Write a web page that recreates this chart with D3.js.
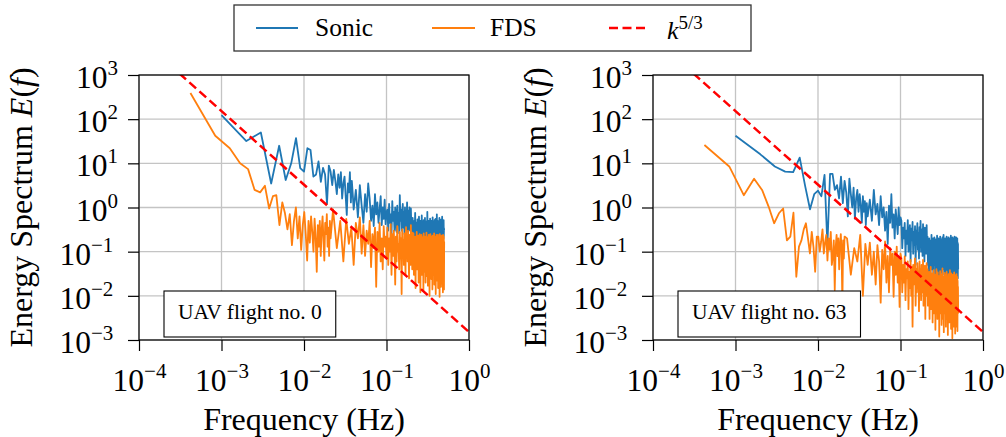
<!DOCTYPE html>
<html><head><meta charset="utf-8">
<script src="https://cdn.jsdelivr.net/npm/d3@7"></script>
<style>
body{margin:0;background:#fff}
svg{display:block}
text{font-family:"Liberation Serif","Times New Roman",serif;fill:#000}
</style>
</head><body>
<svg id="chart" width="1006" height="437"></svg>
<script>
// ---------------- DATA ----------------
// frequency grid (Hz): low-frequency bins use the FFT bin width, the dense high-frequency part is sampled every highStep
const sonicStep = 0.001;
const fdsStep = 0.00042;
const highStep = 0.0025;
const sonicHighStart = 0.0425;
const fdsHighStart = 0.0225;

const xTicks = [1e-4, 1e-3, 1e-2, 1e-1, 1e0];
const yTicks = [1e-3, 1e-2, 1e-1, 1e0, 1e1, 1e2, 1e3];
const seriesNames = ["Sonic", "FDS"];
const flightLabels = ["UAV flight no. 0", "UAV flight no. 63"];

// reference slope k^(-5/3) (two end points of the straight log-log line)
const refFreq = [1e-4, 1];
const refEnergy = [7080, 0.00152];

// ---- UAV flight 0 ----
const sonic0Low = [123, 32, 50, 3.5, 25, 4.2, 10, 37, 7.8, 6.5,
  22, 20, 5.0, 5.6, 11, 3.8, 7.9, 5.6, 1.2, 8.9,
  6.5, 3.2, 7.1, 4.0, 2.0, 5.6, 2.8, 6.3, 1.6, 3.5,
  5.0, 1.8, 0.68, 3.5, 2.2, 6.3, 1.3, 4.0, 2.0, 0.9];
const sonic0High = [2.5, 0.6, 3.2, 1.1, 0.45, 2.0, 0.8, 3.5,
  1.6, 0.5, 1.1, 0.38, 2.0, 0.7, 1.3, 0.45, 0.9, 1.8, 0.4, 1.0, 0.55, 1.5, 0.42, 0.8,
  0.9, 0.3, 1.2, 0.45, 0.7, 0.25, 1.4, 0.5, 0.8, 0.3, 1.0, 0.6, 0.28, 1.1, 0.4, 0.75, 0.26, 1.9, 0.5, 0.9,
  0.3, 0.65, 1.2, 0.35, 0.8, 0.25, 1.0, 0.45, 0.7, 0.3, 1.3, 0.5, 0.28, 0.85, 0.4, 1.0, 0.3, 0.6, 0.95, 0.35,
  0.42, 0.2, 0.58, 0.26, 0.38, 0.18, 0.5, 0.3, 0.75, 0.22,
  0.46, 0.26, 0.34, 0.18, 0.54, 0.24, 0.42, 0.19, 0.62, 0.3,
  0.38, 0.18, 0.5, 0.26, 0.42, 0.21, 0.66, 0.27, 0.36, 0.17,
  0.46, 0.23, 0.52, 0.19, 0.4, 0.26, 0.58, 0.21, 0.34, 0.16,
  0.48, 0.26, 0.38, 0.19, 0.8, 0.24, 0.42, 0.17, 0.5, 0.28,
  0.36, 0.18, 0.46, 0.22, 0.56, 0.26, 0.38, 0.17, 0.44, 0.23,
  0.5, 0.2, 0.34, 0.26, 0.6, 0.21, 0.4, 0.17, 0.46, 0.27,
  0.37, 0.19, 0.52, 0.24, 0.42, 0.16, 0.55, 0.26, 0.36, 0.2,
  0.48, 0.22, 0.7, 0.26, 0.39, 0.18, 0.45, 0.24, 0.34, 0.17,
  0.5, 0.27, 0.42, 0.2, 0.58, 0.23, 0.37, 0.17, 0.47, 0.26,
  0.4, 0.19, 0.53, 0.22, 0.36, 0.16, 0.44, 0.25, 0.62, 0.2,
  0.39, 0.17, 0.48, 0.26, 0.42, 0.2, 0.52, 0.23, 0.34, 0.3];
const fds0Low = [390, 42, 22, 10, 7.4, 2.5, 2.2, 3.1, 0.95, 1.8,
  1.9, 0.4, 1.3, 0.74, 0.32, 0.71, 0.14, 0.5, 1.0, 0.2,
  0.63, 0.11, 0.4, 0.79, 0.25, 0.063, 0.5, 0.16, 0.63, 0.28,
  0.1, 0.56, 0.2, 0.035, 0.4, 0.13, 0.5, 0.08, 0.32, 0.63,
  0.18, 0.063, 0.45, 0.25, 0.71, 0.13, 0.35, 0.08, 0.5, 0.2];
const fds0High = [0.9, 0.12, 0.5, 0.06,
  0.55, 0.15, 0.35, 0.05, 0.45, 0.2, 0.6, 0.09,
  0.4, 0.08, 0.3, 0.15, 0.5, 0.045, 0.25, 0.12, 0.35, 0.016, 0.28, 0.1, 0.45, 0.06, 0.2, 0.04, 0.38, 0.13, 0.22, 0.07,
  0.35, 0.05, 0.2, 0.1, 0.42, 0.03, 0.25, 0.08, 0.3, 0.12,
  0.018, 0.22, 0.06, 0.38, 0.1, 0.15, 0.04, 0.28, 0.07, 0.2,
  0.011, 0.32, 0.09, 0.18, 0.05, 0.26, 0.13, 0.03, 0.36, 0.08,
  0.22, 0.06, 0.3, 0.1, 0.025, 0.24, 0.14, 0.05, 0.4, 0.08,
  0.19, 0.04, 0.27, 0.11,
  0.26, 0.03, 0.16, 0.07, 0.22, 0.015, 0.18, 0.05, 0.28, 0.04,
  0.12, 0.08, 0.23, 0.02, 0.19, 0.045, 0.25, 0.09, 0.012, 0.17,
  0.06, 0.24, 0.03, 0.14, 0.21, 0.045, 0.18, 0.013, 0.26, 0.07,
  0.13, 0.035, 0.22, 0.09, 0.02, 0.19, 0.05, 0.27, 0.028, 0.15,
  0.08, 0.21, 0.017, 0.18, 0.045, 0.24, 0.06, 0.12, 0.01, 0.2,
  0.05, 0.25, 0.035, 0.16, 0.1, 0.024, 0.22, 0.045, 0.19, 0.014,
  0.23, 0.07, 0.15, 0.03, 0.2, 0.05, 0.26, 0.018, 0.17, 0.08,
  0.11, 0.04, 0.22, 0.011, 0.18, 0.06, 0.24, 0.027, 0.15, 0.09,
  0.022, 0.19, 0.05, 0.24, 0.015, 0.16, 0.07, 0.21, 0.035, 0.13,
  0.18, 0.0095, 0.25, 0.05, 0.17, 0.027, 0.21, 0.1, 0.016, 0.2,
  0.06, 0.23, 0.035, 0.15, 0.019, 0.22, 0.08, 0.17, 0.012, 0.24,
  0.045, 0.19, 0.03, 0.22, 0.014, 0.17];

// ---- UAV flight 63 ----
const sonic63Low = [42, 16, 8.5, 6.5, 6.3, 13.5, 3.0, 0.91, 2.0, 2.4,
  1.8, 5.5, 0.14, 5.8, 5.8, 2.5, 3.2, 1.6, 5.0, 1.26,
  4.0, 2.2, 0.63, 4.5, 2.0, 1.0, 2.8, 0.56, 1.6, 2.5,
  0.8, 2.0, 1.1, 0.45, 1.8, 0.8, 1.4, 0.4, 1.26, 0.63];
const sonic63High = [1.5, 0.5, 2.5, 0.7, 1.2, 0.4, 1.8, 0.6,
  1.0, 0.3, 0.8, 0.15, 1.1, 0.45, 2.0, 0.35, 0.7, 0.2, 0.9, 0.5, 0.25, 1.0, 0.4, 0.6,
  0.5, 0.12, 0.35, 0.2, 0.45, 0.08, 0.3, 0.15, 0.52, 0.1,
  0.25, 0.4, 0.06, 0.33, 0.18, 0.47, 0.09, 0.28, 0.14, 0.38,
  0.05, 0.3, 0.2, 0.44, 0.11, 0.26, 0.07, 0.36, 0.16, 0.5,
  0.1, 0.24, 0.32, 0.08, 0.42, 0.13, 0.22, 0.06, 0.35, 0.17,
  0.28, 0.09, 0.4, 0.12,
  0.22, 0.05, 0.15, 0.03, 0.2, 0.08, 0.12, 0.025, 0.18, 0.06,
  0.24, 0.04, 0.14, 0.1, 0.2, 0.03, 0.17, 0.07, 0.21, 0.05,
  0.13, 0.022, 0.19, 0.09, 0.16, 0.04, 0.23, 0.06, 0.12, 0.03,
  0.2, 0.08, 0.15, 0.02, 0.18, 0.05, 0.22, 0.07, 0.11, 0.035,
  0.19, 0.06, 0.16, 0.025, 0.21, 0.09, 0.13, 0.04, 0.24, 0.05,
  0.17, 0.03, 0.14, 0.07, 0.2, 0.021, 0.18, 0.06, 0.12, 0.04,
  0.22, 0.08, 0.15, 0.03, 0.19, 0.05, 0.16, 0.026, 0.21, 0.07,
  0.13, 0.04, 0.18, 0.02, 0.2, 0.06, 0.14, 0.035, 0.23, 0.05,
  0.17, 0.03, 0.19, 0.08, 0.12, 0.022, 0.21, 0.05, 0.15, 0.04,
  0.18, 0.07, 0.2, 0.025, 0.16, 0.05, 0.22, 0.03, 0.13, 0.06,
  0.19, 0.04, 0.17, 0.02, 0.21, 0.06, 0.14, 0.03, 0.18, 0.05,
  0.2, 0.035, 0.16, 0.025, 0.15, 0.04];
const fds63Low = [26, 8.5, 1.9, 4.5, 2.5, 1.05, 0.44, 0.74, 0.95, 0.18,
  0.22, 0.76, 0.027, 0.13, 0.18, 0.32, 0.44, 0.2, 0.091, 0.28,
  0.126, 0.035, 0.22, 0.22, 0.1, 0.17, 0.32, 0.091, 0.16, 0.24,
  0.063, 0.2, 0.11, 0.28, 0.05, 0.078, 0.18, 0.0135, 0.126, 0.24,
  0.079, 0.2, 0.04, 0.14, 0.25, 0.1, 0.0063, 0.18, 0.07, 0.22];
const fds63High = [0.2, 0.03, 0.12, 0.06, 0.24, 0.01, 0.15, 0.05,
  0.16, 0.03, 0.1, 0.018, 0.14, 0.06, 0.007, 0.11, 0.04, 0.17, 0.02, 0.08,
  0.012, 0.12, 0.05, 0.09, 0.0095, 0.1, 0.03, 0.13, 0.02, 0.07, 0.0056, 0.09,
  0.07, 0.012, 0.05, 0.02, 0.078, 0.008, 0.04, 0.025, 0.06, 0.005,
  0.035, 0.015, 0.065, 0.01, 0.045, 0.002, 0.05, 0.018, 0.03, 0.07,
  0.006, 0.04, 0.012, 0.055, 0.022, 0.035, 0.0045, 0.06, 0.015, 0.04,
  0.008, 0.05, 0.028, 0.012, 0.065, 0.006, 0.038, 0.02, 0.048, 0.003,
  0.042, 0.014, 0.055, 0.01,
  0.04, 0.006, 0.025, 0.012, 0.035, 0.003, 0.02, 0.008, 0.045, 0.005,
  0.028, 0.01, 0.032, 0.0025, 0.022, 0.007, 0.038, 0.004, 0.018, 0.012,
  0.03, 0.0017, 0.026, 0.006, 0.04, 0.009, 0.02, 0.003, 0.034, 0.007,
  0.015, 0.005, 0.028, 0.0012, 0.024, 0.008, 0.036, 0.004, 0.019, 0.011,
  0.03, 0.0022, 0.022, 0.006, 0.042, 0.003, 0.017, 0.009, 0.027, 0.0015,
  0.025, 0.007, 0.033, 0.004, 0.02, 0.01, 0.029, 0.002, 0.016, 0.006,
  0.035, 0.003, 0.023, 0.008, 0.026, 0.0013, 0.021, 0.005, 0.031, 0.009,
  0.018, 0.0025, 0.028, 0.006, 0.038, 0.003, 0.02, 0.007, 0.024, 0.0018,
  0.032, 0.005, 0.017, 0.01, 0.027, 0.0011, 0.022, 0.006, 0.03, 0.004,
  0.019, 0.008, 0.026, 0.002, 0.034, 0.005, 0.021, 0.007, 0.025, 0.0014,
  0.029, 0.004, 0.018, 0.009, 0.023, 0.002, 0.031, 0.006, 0.02, 0.003,
  0.027, 0.0016, 0.022, 0.005, 0.016, 0.004];

// ---------------- DRAWING ----------------
const colors = {sonic: "#1f77b4", fds: "#ff7f0e", ref: "#ff0000"};
const svg = d3.select("#chart");

function buildSeries(low, lowStep, high, highStart, step) {
  const pts = low.map((v, i) => ({f: (i + 1) * lowStep, e: v}));
  high.forEach((v, i) => pts.push({f: highStart + i * step, e: v}));
  return pts;
}

const panels = [
  {x0: 139, x1: 469, sonic: buildSeries(sonic0Low, sonicStep, sonic0High, sonicHighStart, highStep),
   fds: buildSeries(fds0Low, fdsStep, fds0High, fdsHighStart, highStep), label: flightLabels[0]},
  {x0: 653, x1: 983, sonic: buildSeries(sonic63Low, sonicStep, sonic63High, sonicHighStart, highStep),
   fds: buildSeries(fds63Low, fdsStep, fds63High, fdsHighStart, highStep), label: flightLabels[1]}
];
const yTop = 75, yBot = 340;

function expLabel(sel, v) {
  const p = Math.round(Math.log10(v));
  sel.text(null);
  sel.append("tspan").text("10");
  sel.append("tspan").attr("dy", -13).attr("font-size", 21).text(p < 0 ? "\u2212" + (-p) : String(p));
}

panels.forEach((P, pi) => {
  const x = d3.scaleLog().domain([1e-4, 1]).range([P.x0, P.x1]);
  const y = d3.scaleLog().domain([1e-3, 1e3]).range([yBot, yTop]);
  const g = svg.append("g");

  const clipId = "clip" + pi;
  svg.append("clipPath").attr("id", clipId).append("rect")
    .attr("x", P.x0).attr("y", yTop).attr("width", P.x1 - P.x0).attr("height", yBot - yTop);

  // grid
  g.append("g").selectAll("line").data(xTicks).join("line")
    .attr("x1", d => x(d)).attr("x2", d => x(d)).attr("y1", yTop).attr("y2", yBot)
    .attr("stroke", "#c4c4c4").attr("stroke-width", 1.3);
  g.append("g").selectAll("line").data(yTicks).join("line")
    .attr("y1", d => y(d)).attr("y2", d => y(d)).attr("x1", P.x0).attr("x2", P.x1)
    .attr("stroke", "#c4c4c4").attr("stroke-width", 1.3);

  // data
  const line = d3.line().x(d => x(d.f)).y(d => y(d.e));
  const dg = g.append("g").attr("clip-path", `url(#${clipId})`);
  dg.append("path").attr("d", line(P.sonic)).attr("fill", "none").attr("stroke", colors.sonic)
    .attr("stroke-width", 1.8).attr("stroke-linejoin", "round");
  dg.append("path").attr("d", line(P.fds)).attr("fill", "none").attr("stroke", colors.fds)
    .attr("stroke-width", 1.8).attr("stroke-linejoin", "round");
  const refPts = refFreq.map((f, i) => ({f: f, e: refEnergy[i]}));
  dg.append("path").attr("d", line(refPts)).attr("fill", "none").attr("stroke", colors.ref)
    .attr("stroke-width", 2.5).attr("stroke-dasharray", "9,4.5");

  // flight label box
  const bx = P.x0 + 25;
  const t = g.append("text").attr("x", 0).attr("y", 319).attr("font-size", 21.5).text(P.label);
  const tw = t.node().getComputedTextLength();
  const bw = tw + 28;
  g.insert("rect", "text").attr("x", bx).attr("y", 291).attr("width", bw).attr("height", 46)
    .attr("fill", "#fff").attr("stroke", "#000").attr("stroke-width", 1.1);
  t.attr("x", bx + bw / 2).attr("text-anchor", "middle");
  t.raise();

  // spines
  g.append("rect").attr("x", P.x0).attr("y", yTop).attr("width", P.x1 - P.x0).attr("height", yBot - yTop)
    .attr("fill", "none").attr("stroke", "#000").attr("stroke-width", 1.2);

  // x axis
  const xa = g.append("g").attr("transform", `translate(0,${yBot})`)
    .call(d3.axisBottom(x).tickValues(xTicks).tickSize(11).tickSizeOuter(0));
  xa.select(".domain").remove();
  xa.selectAll(".tick line").attr("stroke", "#000").attr("stroke-width", 1.2);
  xa.selectAll(".tick text").attr("y", 0).attr("dy", 0).attr("font-size", 31.5)
    .attr("font-family", "Liberation Serif").attr("fill", "#000")
    .each(function(d) { d3.select(this).attr("transform", "translate(0,50.7)"); expLabel(d3.select(this), d); });

  // y axis
  const ya = g.append("g").attr("transform", `translate(${P.x0},0)`)
    .call(d3.axisLeft(y).tickValues(yTicks).tickSize(11).tickSizeOuter(0));
  ya.select(".domain").remove();
  ya.selectAll(".tick line").attr("stroke", "#000").attr("stroke-width", 1.2);
  ya.selectAll(".tick text").attr("dy", 0).attr("font-size", 31.5)
    .attr("font-family", "Liberation Serif").attr("fill", "#000").attr("text-anchor", "start")
    .each(function(d) {
      const neg = d < 1;
      d3.select(this).attr("x", neg ? -79.5 : -63).attr("y", 12.5);
      expLabel(d3.select(this), d);
    });

  // axis titles
  svg.append("text").attr("x", (P.x0 + P.x1) / 2).attr("y", 430).attr("text-anchor", "middle")
    .attr("font-size", 32).text("Frequency (Hz)");
  const yl = svg.append("text").attr("transform", `translate(${P.x0 - 107},${(yTop + yBot) / 2}) rotate(-90)`)
    .attr("text-anchor", "middle").attr("font-size", 32);
  yl.append("tspan").text("Energy Spectrum ");
  yl.append("tspan").attr("font-style", "italic").text("E");
  yl.append("tspan").text("(");
  yl.append("tspan").attr("font-style", "italic").text("f");
  yl.append("tspan").text(")");
});

// legend
const lg = svg.append("g");
lg.append("rect").attr("x", 234).attr("y", 5).attr("width", 517).attr("height", 46)
  .attr("fill", "#fff").attr("stroke", "#333").attr("stroke-width", 1.3);
const legendItems = [
  {name: seriesNames[0], color: colors.sonic, x1: 256, x2: 298, tx: 315, dash: null},
  {name: seriesNames[1], color: colors.fds, x1: 432, x2: 475, tx: 490, dash: null},
  {name: "k", color: colors.ref, x1: 609, x2: 648, tx: 667, dash: "9,4.5"}
];
legendItems.forEach(it => {
  lg.append("line").attr("x1", it.x1).attr("x2", it.x2).attr("y1", 28).attr("y2", 28)
    .attr("stroke", it.color).attr("stroke-width", it.dash ? 2.5 : 2.2)
    .attr("stroke-dasharray", it.dash);
  if (it.dash) {
    const t = lg.append("text").attr("x", it.tx).attr("y", 38.5).attr("font-size", 26);
    t.append("tspan").attr("font-style", "italic").text(it.name);
    t.append("tspan").attr("dy", -10).attr("font-size", 19).text("5/3");
  } else {
    lg.append("text").attr("x", it.tx).attr("y", 36).attr("font-size", 25.5).text(it.name);
  }
});
</script>
</body></html>
